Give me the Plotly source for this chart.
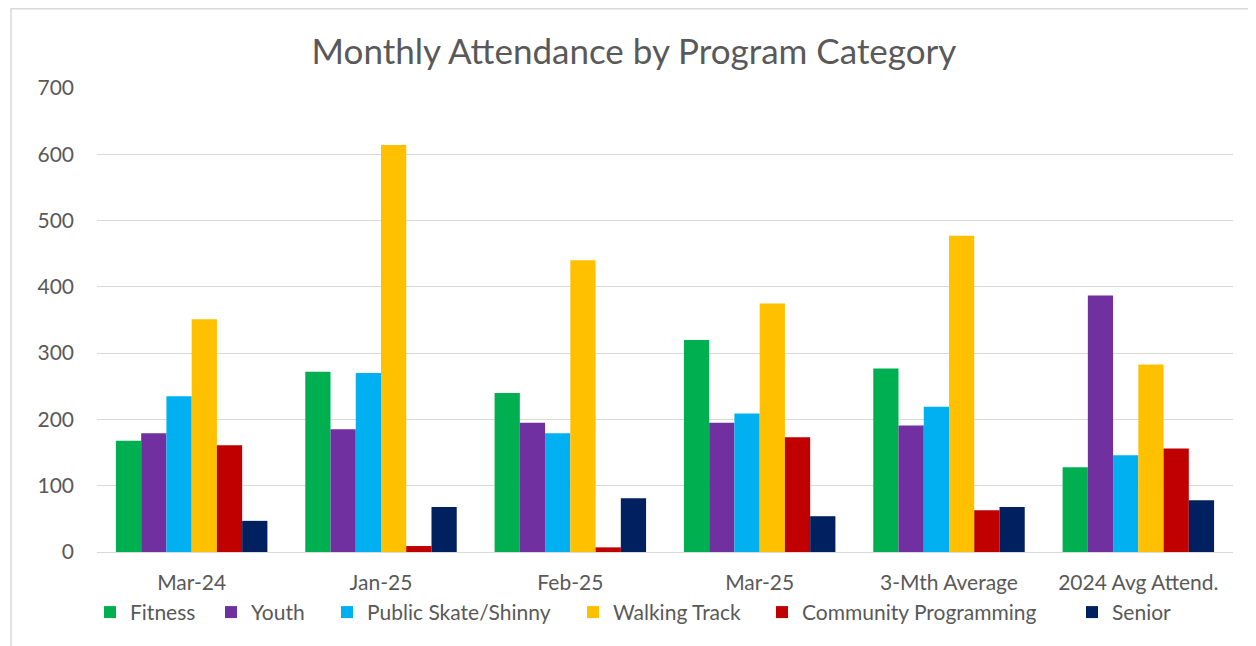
import plotly.graph_objects as go

categories = ["Mar-24", "Jan-25", "Feb-25", "Mar-25", "3-Mth Average", "2024 Avg Attend."]
series_names = ["Fitness", "Youth", "Public Skate/Shinny", "Walking Track", "Community Programming", "Senior"]
fitness = [168, 272, 240, 320, 277, 128]
youth = [179, 185, 195, 195, 191, 387]
public_skate = [235, 270, 179, 209, 219, 146]
walking_track = [351, 614, 440, 375, 477, 283]
community = [161, 9, 7, 173, 63, 156]
senior = [47, 68, 81, 54, 68, 78]
y_ticks = [0, 100, 200, 300, 400, 500, 600, 700]

series_values = [fitness, youth, public_skate, walking_track, community, senior]
colors = ["#00B050", "#7030A0", "#00B0F0", "#FFC000", "#C00000", "#002060"]

# page body has an 8px margin; figure pixel = page pixel - 8
OFF = 8
W, H = 1256 - OFF, 646 - OFF
L, T = 97 - OFF, 88 - OFF
R = 23
PLOT_H = 464.5
B = H - T - PLOT_H
plot_w = W - L - R
plot_h = PLOT_H

FONT = "Lato"
TXT = "#595959"

# legend marker left edges in page px (layout only)
legend_px = [108, 229, 345, 591, 780, 1090]
legend_y_px = 613

fig = go.Figure()
for i, (name, vals, col) in enumerate(zip(series_names, series_values, colors)):
    lg = "legend" if i == 0 else f"legend{i+1}"
    fig.add_trace(go.Bar(
        x=categories, y=vals, name=name,
        marker=dict(color=col, line=dict(width=0)),
        legend=lg,
    ))

legends = {}
for i, px in enumerate(legend_px):
    key = "legend" if i == 0 else f"legend{i+1}"
    legends[key] = dict(
        x=(px - 18 - OFF - L) / plot_w,
        xanchor="left",
        y=(T + PLOT_H - (legend_y_px - OFF)) / plot_h,
        yanchor="middle",
        orientation="h",
        bgcolor="rgba(0,0,0,0)",
        borderwidth=0,
        font=dict(family=FONT, size=21, color=TXT),
        itemclick=False,
    )

fig.update_layout(
    width=W, height=H,
    margin=dict(l=L, r=R, t=T, b=B, pad=0),
    paper_bgcolor="white",
    plot_bgcolor="white",
    barmode="group",
    bargap=0.2,
    bargroupgap=0,
    showlegend=True,
    title=dict(
        text="Monthly Attendance by Program Category",
        x=(634 - OFF) / W, xref="container", xanchor="center",
        y=1 - (52 - OFF) / H, yref="container", yanchor="middle",
        font=dict(family=FONT, size=35, color=TXT),
    ),
    font=dict(family=FONT, color=TXT),
    **legends,
)

fig.update_yaxes(
    range=[0, 700],
    tickvals=y_ticks,
    showgrid=True, gridcolor="#D9D9D9", gridwidth=1,
    zeroline=False,
    showline=False,
    ticks="",
    ticklabelstandoff=22,
    tickfont=dict(family=FONT, size=21, color=TXT),
    fixedrange=True,
)
fig.update_xaxes(
    showline=True, linecolor="#D9D9D9", linewidth=1,
    showgrid=False,
    ticks="",
    ticklabelstandoff=12,
    tickfont=dict(family=FONT, size=21, color=TXT),
    fixedrange=True,
)

# chart frame border
fig.add_shape(
    type="rect", xref="paper", yref="paper",
    x0=(11 - OFF - L) / plot_w, x1=(W + 10 - L) / plot_w,
    y0=(T + PLOT_H - (H + 10)) / plot_h, y1=(T + PLOT_H - 0.75) / plot_h,
    line=dict(color="#D9D9D9", width=1.5),
    fillcolor="rgba(0,0,0,0)",
    layer="below",
)

fig.write_html("out.html")
